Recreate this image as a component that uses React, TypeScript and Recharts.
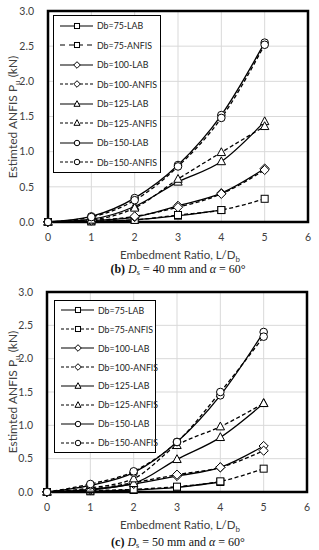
import React from 'react';
import { LineChart, Line, XAxis, YAxis, CartesianGrid, ReferenceArea, Legend } from 'recharts';

const ratios = [0, 1, 2, 3, 4, 5];
const xTicks = [0, 1, 2, 3, 4, 5, 6];
const yTicks = [0, 0.5, 1, 1.5, 2, 2.5, 3];
const seriesNames = ['Db=75-LAB', 'Db=75-ANFIS', 'Db=100-LAB', 'Db=100-ANFIS', 'Db=125-LAB', 'Db=125-ANFIS', 'Db=150-LAB', 'Db=150-ANFIS'];
const shapes = ['square', 'square', 'diamond', 'diamond', 'triangle', 'triangle', 'circle', 'circle'];
const dashedFlags = [false, true, false, true, false, true, false, true];

// (b) Ds = 40 mm
const b75Lab = [0, 0.01, 0.03, 0.09, 0.17, null];
const b75Anfis = [0, 0.01, 0.03, 0.10, 0.17, 0.33];
const b100Lab = [0, 0.02, 0.07, 0.23, 0.41, 0.76];
const b100Anfis = [0, 0.02, 0.08, 0.21, 0.40, 0.74];
const b125Lab = [0, 0.04, 0.22, 0.57, 0.86, 1.43];
const b125Anfis = [0, 0.03, 0.20, 0.61, 0.99, 1.36];
const b150Lab = [0, 0.08, 0.34, 0.81, 1.52, 2.55];
const b150Anfis = [0, 0.07, 0.31, 0.79, 1.48, 2.52];

// (c) Ds = 50 mm
const c75Lab = [0, 0.01, 0.03, 0.07, 0.15, null];
const c75Anfis = [0, 0.02, 0.04, 0.08, 0.16, 0.35];
const c100Lab = [0, 0.03, 0.12, 0.24, 0.37, 0.69];
const c100Anfis = [0, 0.04, 0.14, 0.26, 0.37, 0.62];
const c125Lab = [0, 0.04, 0.13, 0.49, 0.82, 1.33];
const c125Anfis = [0, 0.06, 0.20, 0.70, 0.98, 1.33];
const c150Lab = [0, 0.10, 0.29, 0.75, 1.45, 2.40];
const c150Anfis = [0, 0.12, 0.31, 0.75, 1.50, 2.33];

const seriesB = [b75Lab, b75Anfis, b100Lab, b100Anfis, b125Lab, b125Anfis, b150Lab, b150Anfis];
const seriesC = [c75Lab, c75Anfis, c100Lab, c100Anfis, c125Lab, c125Anfis, c150Lab, c150Anfis];

function buildRows(series: (number | null)[][]) {
  return ratios.map((r, i) => {
    const row: any = { x: r };
    series.forEach((s, j) => {
      row['s' + j] = s[i];
    });
    return row;
  });
}

const FONT = 'Lato, "Open Sans", sans-serif';

function Marker({ shape, cx, cy, k = 1 }: { shape: string; cx: number; cy: number; k?: number }) {
  const st = { fill: '#fff', stroke: '#000', strokeWidth: 1 };
  if (shape === 'square') return <rect x={cx - 3.5 * k} y={cy - 3.5 * k} width={7 * k} height={7 * k} {...st} />;
  if (shape === 'diamond') {
    const d = 4.6 * k;
    return <polygon points={`${cx},${cy - d} ${cx + d},${cy} ${cx},${cy + d} ${cx - d},${cy}`} {...st} />;
  }
  if (shape === 'triangle')
    return (
      <polygon
        points={`${cx},${cy - 4.6 * k} ${cx + 4.2 * k},${cy + 3.2 * k} ${cx - 4.2 * k},${cy + 3.2 * k}`}
        {...st}
      />
    );
  return <circle cx={cx} cy={cy} r={3.8 * k} {...st} />;
}

function LegendBox({ w, h, longDash }: { w: number; h: number; longDash: boolean }) {
  const rowH = (h - 2) / seriesNames.length;
  return (
    <div
      style={{
        width: w,
        height: h,
        boxSizing: 'border-box',
        border: '1px solid #000',
        background: '#fff',
        fontFamily: FONT,
        fontSize: 8.8,
        color: '#222',
      }}
    >
      {seriesNames.map((n, i) => (
        <div key={n} style={{ height: rowH, display: 'flex', alignItems: 'center' }}>
          <svg width={39} height={12} style={{ marginLeft: 4, flex: 'none' }}>
            <line
              x1={2}
              x2={35}
              y1={6}
              y2={6}
              stroke="#000"
              strokeWidth={1.2}
              strokeDasharray={dashedFlags[i] ? (longDash && i === 1 ? '5 4' : '3 2') : undefined}
            />
            <Marker shape={shapes[i]} cx={19} cy={6} k={0.72} />
          </svg>
          <span style={{ whiteSpace: 'nowrap' }}>{n}</span>
        </div>
      ))}
    </div>
  );
}

function Panel({
  series,
  top,
  height,
  yAxisW,
  rightM,
  legend,
  longDash,
}: {
  series: (number | null)[][];
  top: number;
  height: number;
  yAxisW: number;
  rightM: number;
  legend: { left: number; top: number; w: number; h: number };
  longDash: boolean;
}) {
  const rows = buildRows(series);
  return (
    <div style={{ position: 'absolute', left: 0, top }}>
      <LineChart width={319} height={height} data={rows} margin={{ top: 11, right: rightM, bottom: 0, left: 0 }}>
        <CartesianGrid stroke="#d9d9d9" strokeWidth={1} />
        <XAxis
          dataKey="x"
          type="number"
          domain={[0, 6]}
          ticks={xTicks}
          tickLine={false}
          axisLine={false}
          height={23}
          tick={{ fontSize: 10.5, fill: '#404040', fontFamily: FONT }}
          tickMargin={6}
        />
        <YAxis
          type="number"
          domain={[0, 3]}
          ticks={yTicks}
          tickLine={false}
          axisLine={false}
          width={yAxisW}
          tickFormatter={(v: number) => v.toFixed(1)}
          tick={{ fontSize: 10.5, fill: '#404040', fontFamily: FONT }}
          tickMargin={8}
        />
        {series.map((_, j) => (
          <Line
            key={'s' + j}
            dataKey={'s' + j}
            name={seriesNames[j]}
            type="monotone"
            stroke="#000"
            strokeWidth={1.3}
            strokeDasharray={dashedFlags[j] ? '4 2.5' : undefined}
            isAnimationActive={false}
            connectNulls={false}
            dot={(p: any) =>
              p.value == null || p.cy == null ? (
                <g key={`d${j}-${p.index}`} />
              ) : (
                <g key={`d${j}-${p.index}`}>
                  <Marker shape={shapes[j]} cx={p.cx} cy={p.cy} />
                </g>
              )
            }
            activeDot={false}
          />
        ))}
        <ReferenceArea x1={0} x2={6} y1={0} y2={3} fill="none" stroke="#000" strokeWidth={2.5} ifOverflow="visible" />
        <Legend
          layout="vertical"
          align="center"
          verticalAlign="middle"
          wrapperStyle={{ left: legend.left, top: legend.top, width: legend.w, height: legend.h }}
          content={() => <LegendBox w={legend.w} h={legend.h} longDash={longDash} />}
        />
      </LineChart>
    </div>
  );
}

function YTitle({ cy }: { cy: number }) {
  return (
    <div
      style={{
        position: 'absolute',
        left: 13,
        top: cy,
        transform: 'translate(-50%, -50%) rotate(-90deg)',
        whiteSpace: 'nowrap',
        fontFamily: FONT,
        fontSize: 12,
        lineHeight: '14px',
        color: '#404040',
      }}
    >
      Estimted ANFIS P<span style={{ fontSize: 8, position: 'relative', top: 3 }}>u</span> (kN)
    </div>
  );
}

function XTitle({ cy }: { cy: number }) {
  return (
    <div
      style={{
        position: 'absolute',
        left: 180,
        top: cy,
        transform: 'translate(-50%, -50%)',
        whiteSpace: 'nowrap',
        fontFamily: FONT,
        fontSize: 11.5,
        lineHeight: '14px',
        color: '#404040',
      }}
    >
      Embedment Ratio, L/D<span style={{ fontSize: 8, position: 'relative', top: 3 }}>b</span>
    </div>
  );
}

function Caption({ cy, letter, ds }: { cy: number; letter: string; ds: string }) {
  return (
    <div
      style={{
        position: 'absolute',
        left: 178,
        top: cy,
        transform: 'translate(-50%, -50%)',
        whiteSpace: 'nowrap',
        fontFamily: '"Liberation Serif", "DejaVu Serif", serif',
        fontSize: 12,
        lineHeight: '14px',
        color: '#111',
      }}
    >
      <b>({letter})</b> <i>D</i>
      <span style={{ fontSize: 8, position: 'relative', top: 2 }}>s</span> = {ds} mm and <i>α</i> = 60°
    </div>
  );
}

export default function App() {
  return (
    <div
      style={{
        position: 'fixed',
        left: 0,
        top: 0,
        width: 319,
        height: 550,
        background: '#fff',
        overflow: 'hidden',
      }}
    >
      <Panel
        series={seriesB}
        top={0}
        height={245}
        yAxisW={48}
        rightM={11}
        legend={{ left: 53, top: 15, w: 108, h: 158 }}
        longDash={true}
      />
      <YTitle cy={117} />
      <XTitle cy={255} />
      <Caption cy={270} letter="b" ds="40" />

      <Panel
        series={seriesC}
        top={281}
        height={234}
        yAxisW={47}
        rightM={12}
        legend={{ left: 54, top: 19, w: 102, h: 153 }}
        longDash={false}
      />
      <YTitle cy={392} />
      <XTitle cy={525} />
      <Caption cy={543} letter="c" ds="50" />
    </div>
  );
}
